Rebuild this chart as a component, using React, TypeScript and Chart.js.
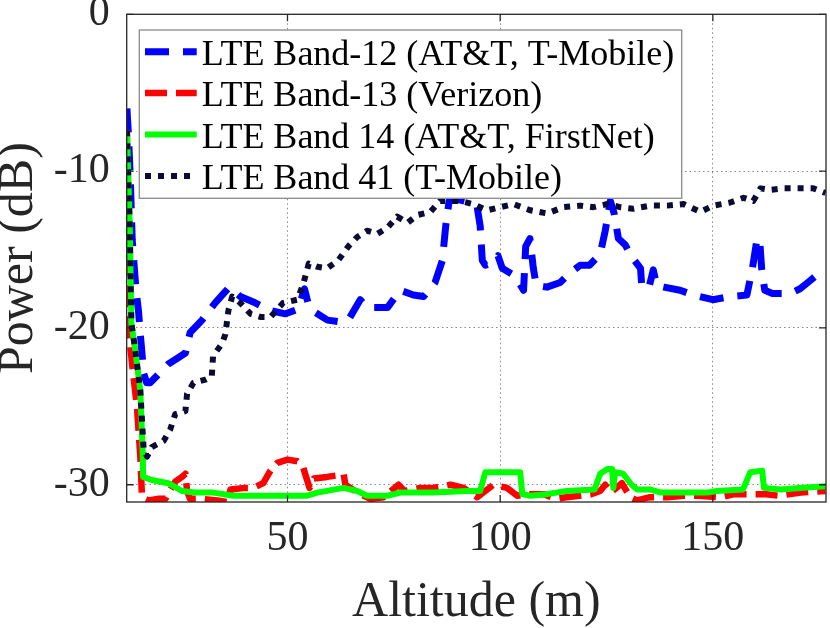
import { useEffect, useRef } from "react";
import { Chart, registerables } from "chart.js";

Chart.register(...registerables);

const FONT = "'Liberation Serif', 'Times New Roman', Times, serif";

// LTE Band-12 (AT&T, T-Mobile)
const band12Alt = [
  12.25, 12.6, 13.0, 13.5, 14.4, 15.0, 15.4, 16.2, 16.9, 17.7, 19.5, 22.0, 24.3, 26.0, 27.1,
  29.9, 33.0, 35.0, 36.3, 38.9, 42.4, 46.0, 49.5, 52.5, 54.0, 55.0, 56.5, 59.4, 62.0, 64.3,
  67.1, 68.7, 73.5, 76.5, 79.6, 82.0, 84.7, 86.4, 87.2, 88.0, 90.0, 93.0, 94.6, 95.3, 95.8,
  96.5, 98.5, 99.5, 100.5, 103.0, 104.2, 105.5, 106.0, 107.0, 107.8, 108.5, 111.0, 114.1, 116.4,
  118.8, 121.0, 123.5, 124.7, 125.9, 126.8, 127.8, 129.4, 131.0, 133.0, 133.3, 135.0, 136.0, 136.8,
  138.5, 142.3, 145.4, 150.0, 154.1, 158.0, 159.3, 160.4, 161.0, 161.5, 162.2, 164.0, 168.2, 170.5,
  172.8, 175.0
];
const band12Power = [
  -6.0, -7.6, -10.1, -14.4, -17.6, -19.0, -20.4, -22.9, -23.5, -23.5, -23.0, -22.3, -21.9, -21.6, -20.3,
  -19.5, -18.4, -17.8, -17.4, -18.0, -18.4, -18.9, -19.1, -18.8, -17.5, -18.6, -19.0, -19.5, -19.6, -19.5,
  -18.2, -18.7, -18.7, -17.6, -17.9, -18.0, -17.1, -15.7, -13.5, -11.9, -11.8, -12.0, -12.3, -13.5, -15.7,
  -16.0, -15.8, -15.4, -16.2, -16.6, -17.0, -17.6, -14.8, -14.3, -16.2, -17.3, -17.4, -17.1, -16.5,
  -16.0, -16.0, -15.3, -13.8, -11.9, -12.7, -14.3, -14.7, -15.5, -16.2, -17.4, -17.4, -16.3, -17.3,
  -17.4, -17.6, -17.9, -18.2, -18.0, -17.9, -16.2, -14.3, -14.4, -16.3, -17.6, -17.8, -17.8, -17.5,
  -17.0, -16.5
];

// LTE Band-13 (Verizon)
const band13Alt = [
  12.25, 12.5, 12.63, 13.7, 14.6, 15.4, 15.8, 17.3, 19.5, 21.3, 22.3, 23.6, 25.2, 26.0, 26.4,
  27.1, 30.0, 33.5, 35.8, 36.6, 40.0, 42.0, 44.3, 46.0, 47.6, 50.0, 52.3, 53.7, 54.6, 55.2,
  56.2, 59.3, 61.7, 63.2, 63.6, 66.4, 69.5, 72.6, 76.1, 77.5, 81.2, 84.3, 88.3, 91.4, 94.6,
  98.4, 101.6, 104.0, 107.0, 110.3, 113.0, 115.6, 121.4, 123.5, 124.7, 126.0, 128.6, 130.6, 132.2,
  135.0, 139.3, 143.0, 146.6, 151.8, 155.0, 159.8, 162.5, 165.4, 170.7, 176.5
];
const band13Power = [
  -7.4, -15.0, -20.1, -22.9, -25.0, -28.2, -30.8, -31.0, -30.9, -30.9, -30.4, -29.8, -29.5, -29.3, -30.4,
  -30.9, -30.9, -31.0, -31.1, -30.3, -30.2, -30.2, -29.9, -29.1, -28.6, -28.4, -28.5, -28.9, -29.7, -30.2,
  -29.6, -29.5, -29.4, -29.3, -30.0, -30.5, -30.9, -30.8, -30.0, -30.4, -30.2, -30.2, -30.0, -30.2, -30.8,
  -30.0, -30.2, -30.7, -30.6, -30.6, -30.9, -30.8, -30.6, -30.4, -30.0, -30.5, -29.9, -30.8, -31.0,
  -30.8, -30.8, -30.7, -30.7, -30.8, -30.6, -30.6, -30.6, -30.7, -30.5, -30.4
];

// LTE Band 14 (AT&T, FirstNet)
const band14Alt = [
  12.25, 12.9, 13.3, 14.2, 15.4, 16.0, 16.05, 18.1, 22.0, 25.2, 28.3, 32.6, 37.3, 45.2, 50.0,
  54.6, 57.0, 63.2, 66.4, 68.7, 73.5, 76.5, 84.3, 92.2, 95.3, 96.5, 104.7, 105.2, 107.1, 111.0,
  115.6, 122.2, 123.5, 125.2, 126.3, 126.6, 127.0, 128.9, 130.9, 132.2, 135.2, 137.8, 143.0, 148.6,
  150.9, 157.1, 158.8, 161.6, 162.0, 166.0, 170.5, 176.5
];
const band14Power = [
  -7.4, -13.3, -19.7, -21.4, -24.0, -28.2, -29.5, -29.7, -29.9, -30.4, -30.5, -30.5, -30.7, -30.7, -30.7,
  -30.7, -30.5, -30.2, -30.4, -30.7, -30.7, -30.5, -30.5, -30.4, -30.4, -29.2, -29.2, -30.6, -30.7, -30.6,
  -30.4, -30.3, -29.3, -29.0, -29.0, -30.2, -29.2, -29.3, -30.0, -30.3, -30.3, -30.5, -30.5, -30.5,
  -30.4, -30.3, -29.2, -29.1, -30.2, -30.3, -30.2, -30.1
];

// LTE Band 41 (T-Mobile)
const band41Alt = [
  12.25, 12.9, 13.3, 14.2, 15.4, 16.2, 17.0, 18.1, 20.9, 22.4, 23.6, 26.0, 26.4, 27.9, 30.7,
  32.2, 32.5, 34.6, 35.4, 36.1, 37.0, 38.9, 41.3, 43.6, 46.0, 49.0, 52.3, 53.7, 55.0, 57.0,
  59.3, 61.9, 64.3, 66.4, 68.7, 71.1, 73.5, 75.8, 78.2, 80.5, 83.6, 85.9, 90.6, 93.6, 96.9,
  100.0, 103.1, 107.1, 111.1, 114.8, 118.8, 121.9, 125.2, 128.2, 131.3, 135.3, 139.3, 143.1, 147.1,
  150.1, 154.1, 157.2, 159.5, 161.2, 163.5, 166.6, 170.5, 173.6, 176.5
];
const band41Power = [
  -7.4, -13.3, -19.7, -21.4, -24.0, -27.8, -28.2, -27.6, -27.2, -26.5, -25.5, -25.3, -24.2, -23.5, -23.3,
  -23.1, -21.8, -21.0, -20.4, -18.9, -18.0, -18.4, -19.1, -19.3, -19.3, -18.4, -18.2, -17.2, -15.9, -16.1,
  -16.2, -15.7, -14.8, -14.2, -13.8, -14.0, -13.6, -12.9, -13.3, -12.8, -12.6, -11.9, -11.9, -12.1, -12.5,
  -12.3, -12.1, -12.5, -12.7, -12.3, -12.2, -12.3, -12.1, -12.3, -12.4, -12.2, -12.2, -12.1, -12.6,
  -12.2, -12.0, -11.7, -11.9, -11.1, -11.2, -11.1, -11.1, -11.1, -11.4
];

const seriesLabels = [
  "LTE Band-12 (AT&T, T-Mobile)",
  "LTE Band-13 (Verizon)",
  "LTE Band 14 (AT&T, FirstNet)",
  "LTE Band 41 (T-Mobile)"
];

const xTicks = [50, 100, 150];
const yTicks = [-30, -20, -10, 0];

const toPoints = (xs: number[], ys: number[]) => xs.map((x, i) => ({ x, y: ys[i] }));

// axes box with inward tick marks, MATLAB style
const framePlugin = {
  id: "matlabFrame",
  afterDatasetsDraw(chart: any) {
    const { ctx, chartArea: a, scales } = chart;
    const len = 7;
    ctx.save();
    ctx.setLineDash([]);
    ctx.strokeStyle = "#262626";
    ctx.lineWidth = 1.3;
    ctx.strokeRect(a.left, a.top, a.right - a.left, a.bottom - a.top);
    ctx.beginPath();
    xTicks.forEach((v) => {
      const px = scales.x.getPixelForValue(v);
      ctx.moveTo(px, a.bottom);
      ctx.lineTo(px, a.bottom - len);
      ctx.moveTo(px, a.top);
      ctx.lineTo(px, a.top + len);
    });
    yTicks.forEach((v) => {
      const py = scales.y.getPixelForValue(v);
      ctx.moveTo(a.left, py);
      ctx.lineTo(a.left + len, py);
      ctx.moveTo(a.right, py);
      ctx.lineTo(a.right - len, py);
    });
    ctx.stroke();
    ctx.restore();
  }
};

// boxed legend in the upper left of the axes
const legendPlugin = {
  id: "boxLegend",
  afterDraw(chart: any) {
    const { ctx, chartArea: a } = chart;
    const left = a.left + 12.6;
    const top = a.top + 15.7;
    const w = 542.4;
    const h = 168.3;
    ctx.save();
    ctx.setLineDash([]);
    ctx.fillStyle = "#ffffff";
    ctx.fillRect(left, top, w, h);
    ctx.strokeStyle = "#8a8a8a";
    ctx.lineWidth = 1.3;
    ctx.strokeRect(left, top, w, h);
    ctx.font = `36px ${FONT}`;
    ctx.textBaseline = "alphabetic";
    ctx.textAlign = "left";
    chart.data.datasets.forEach((ds: any, i: number) => {
      const cy = top + 21.7 + i * 41.4;
      ctx.strokeStyle = ds.borderColor;
      ctx.lineWidth = ds.borderWidth;
      ctx.lineCap = "butt";
      ctx.setLineDash(ds.borderDash || []);
      ctx.beginPath();
      ctx.moveTo(left + 5.7, cy);
      ctx.lineTo(left + 57.4, cy);
      ctx.stroke();
      ctx.setLineDash([]);
      ctx.fillStyle = "#000000";
      ctx.fillText(ds.label, left + 62.4, cy + 13.3);
    });
    ctx.restore();
  }
};

const PowerChart = () => {
  const canvasRef = useRef<HTMLCanvasElement | null>(null);
  const chartRef = useRef<Chart | null>(null);

  useEffect(() => {
    if (!canvasRef.current) return;
    const ctx = canvasRef.current.getContext("2d");
    if (!ctx) return;

    const common = {
      pointRadius: 0,
      pointHoverRadius: 0,
      tension: 0,
      fill: false,
      clip: 0,
      borderCapStyle: "butt" as const,
      borderJoinStyle: "round" as const
    };

    chartRef.current = new Chart(ctx, {
      type: "line",
      data: {
        datasets: [
          {
            ...common,
            label: seriesLabels[0],
            data: toPoints(band12Alt, band12Power),
            borderColor: "#0000ff",
            borderWidth: 7,
            borderDash: [24, 14],
            order: 4
          },
          {
            ...common,
            label: seriesLabels[1],
            data: toPoints(band13Alt, band13Power),
            borderColor: "#ff0000",
            borderWidth: 6.5,
            borderDash: [22, 9],
            order: 3
          },
          {
            ...common,
            label: seriesLabels[2],
            data: toPoints(band14Alt, band14Power),
            borderColor: "#00ff00",
            borderWidth: 6,
            order: 2
          },
          {
            ...common,
            label: seriesLabels[3],
            data: toPoints(band41Alt, band41Power),
            borderColor: "#0b0b36",
            borderWidth: 6,
            borderDash: [6, 7],
            order: 1
          }
        ]
      },
      options: {
        responsive: false,
        animation: false,
        layout: { padding: { top: 14.3, right: 4, left: 0, bottom: 0 } },
        plugins: {
          legend: { display: false },
          tooltip: { enabled: false }
        },
        scales: {
          x: {
            type: "linear",
            min: 12.2,
            max: 176.6,
            afterBuildTicks: (scale: any) => {
              scale.ticks = xTicks.map((value) => ({ value }));
            },
            afterFit: (scale: any) => {
              scale.height = 126;
              scale.paddingLeft = 0;
              scale.paddingRight = 0;
            },
            grid: {
              color: "rgba(38,38,38,0.55)",
              lineWidth: 1,
              drawTicks: false
            },
            border: { display: false, dash: [1.5, 3] },
            ticks: {
              color: "#262626",
              padding: 12,
              maxRotation: 0,
              autoSkip: false,
              font: { family: FONT, size: 42 }
            },
            title: {
              display: true,
              text: "Altitude (m)",
              color: "#262626",
              padding: 0,
              font: { family: FONT, size: 50, lineHeight: 1.0 }
            }
          },
          y: {
            type: "linear",
            min: -31.1,
            max: 0,
            afterBuildTicks: (scale: any) => {
              scale.ticks = yTicks.map((value) => ({ value }));
            },
            afterFit: (scale: any) => {
              scale.width = 126.7;
              scale.paddingTop = 0;
              scale.paddingBottom = 0;
            },
            grid: {
              color: "rgba(38,38,38,0.55)",
              lineWidth: 1,
              drawTicks: false
            },
            border: { display: false, dash: [1.5, 3] },
            ticks: {
              color: "#262626",
              padding: 17,
              autoSkip: false,
              font: { family: FONT, size: 42 }
            },
            title: {
              display: true,
              text: "Power (dB)",
              color: "#262626",
              padding: 0,
              font: { family: FONT, size: 50, lineHeight: 0.74 }
            }
          }
        }
      },
      plugins: [framePlugin, legendPlugin]
    });

    return () => {
      chartRef.current?.destroy();
    };
  }, []);

  return (
    <div style={{ position: "absolute", left: 0, top: 0, width: 830, height: 628, background: "#fff" }}>
      <canvas ref={canvasRef} width={830} height={628} />
    </div>
  );
};

export default function App() {
  return <PowerChart />;
}
